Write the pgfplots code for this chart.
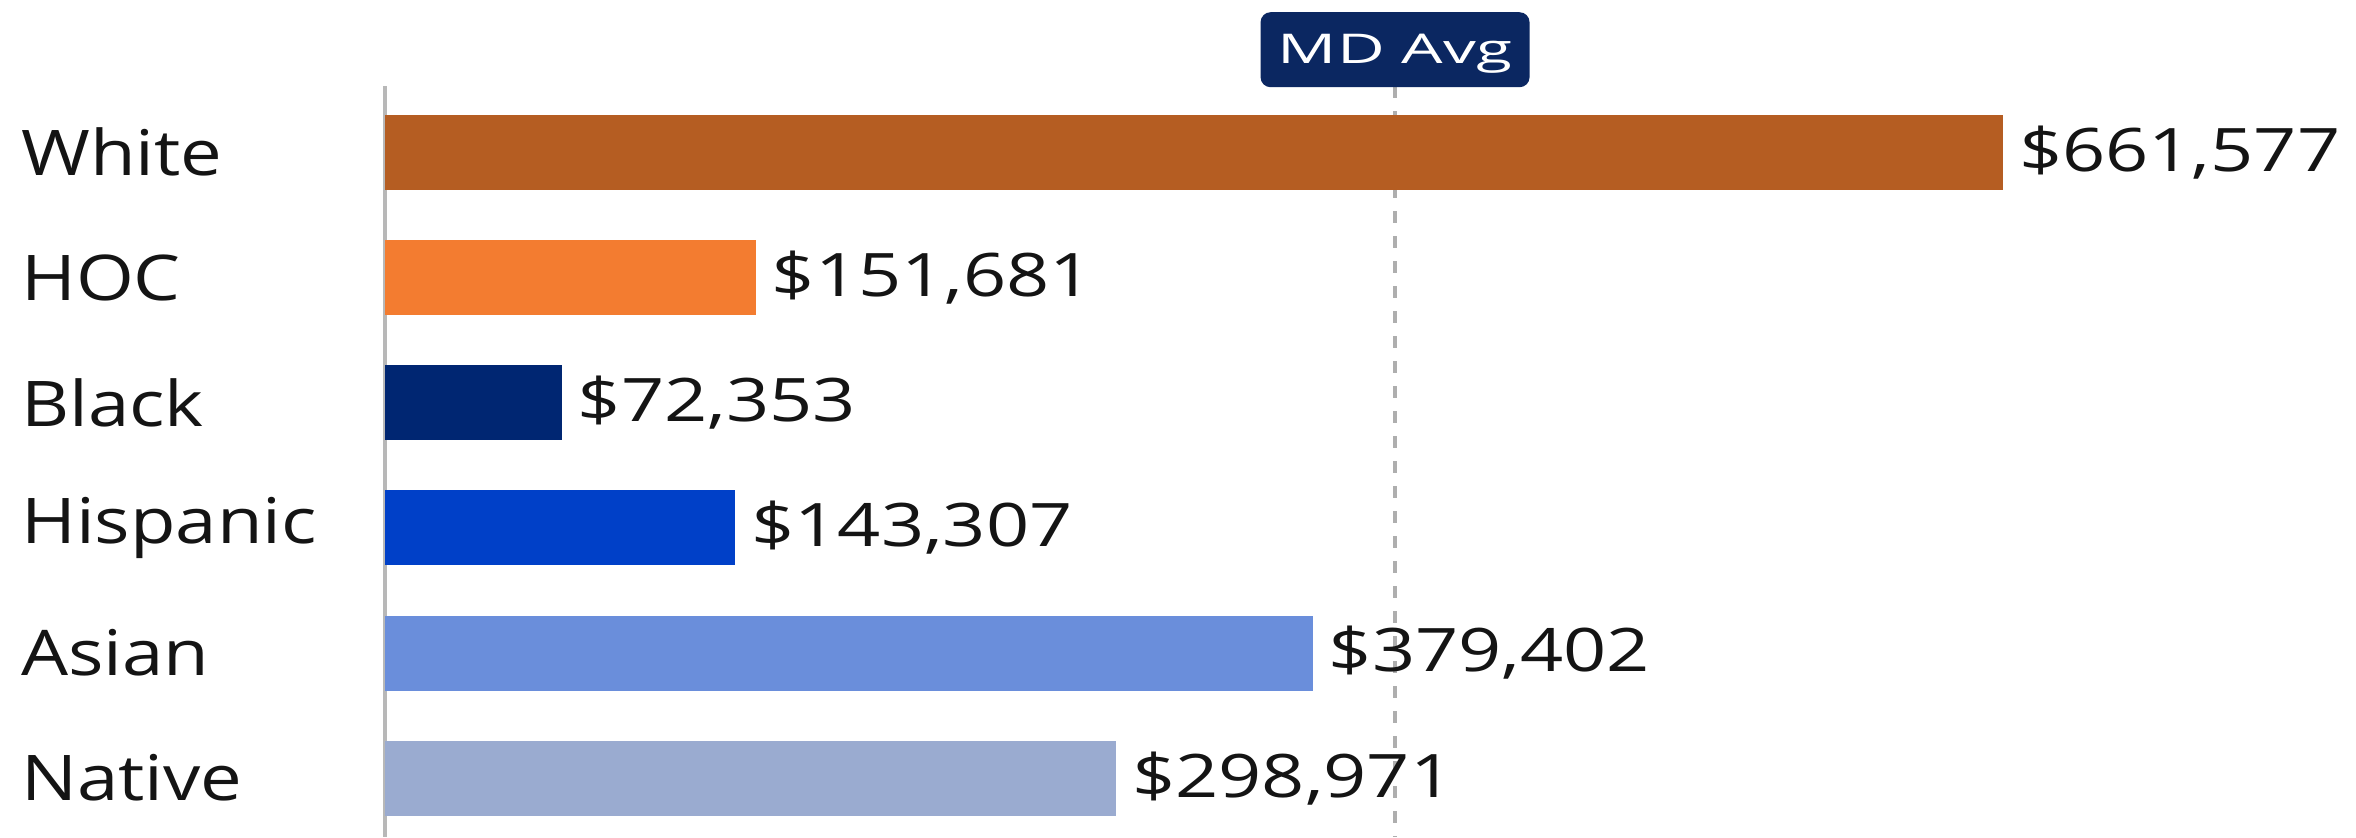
\documentclass[border=0pt]{standalone}
\usepackage{fontspec}
\setmainfont{Open Sans}
\newfontfamily\labfont{Open Sans}[FakeStretch=1.18]
\newfontfamily\valfont{Open Sans}[FakeStretch=1.26]
\newfontfamily\avgfont{Open Sans}[FakeStretch=1.6]
\usepackage{pgfplots}
\pgfplotsset{compat=1.18}
\definecolor{cWhite}{HTML}{B55D22}
\definecolor{cHOC}{HTML}{F37C30}
\definecolor{cBlack}{HTML}{002672}
\definecolor{cHisp}{HTML}{0040C8}
\definecolor{cAsian}{HTML}{6A8EDB}
\definecolor{cNative}{HTML}{9AABD0}
\definecolor{cAvg}{HTML}{0B2761}
\definecolor{axgray}{HTML}{B8B8B8}
\definecolor{dashgray}{HTML}{AEAEAE}
\begin{document}
\begin{tikzpicture}
\useasboundingbox (-96.25pt,0pt) rectangle (492.75pt,209.25pt);
\begin{axis}[
  at={(0pt,0pt)}, anchor=south west,
  scale only axis, width=404.5pt, height=187.75pt,
  xmin=0, xmax=661577,
  ymin=-0.53, ymax=5.47, y dir=reverse,
  ytick={0,1,2,3,4,5},
  yticklabels={White,HOC,Black,Hispanic,Asian,Native},
  axis x line=none,
  axis y line*=left,
  y axis line style={axgray, line width=0.8pt},
  major tick length=0pt,
  yticklabel style={font=\labfont\fontsize{15.75}{18}\selectfont, anchor=east, text width=90.75pt, align=left, inner sep=0pt, text=black!92},
  clip=false,
  mybar/.style={xbar, bar width=18.75pt, bar shift=0pt, draw=none,
    point meta=explicit symbolic,
    nodes near coords={\$\pgfplotspointmeta},
    every node near coord/.append style={font=\valfont\fontsize{15}{18}\selectfont, anchor=west, inner sep=0pt, xshift=3.8pt, text=black!92}},
]
\addplot[dashgray, line width=0.9pt, dash pattern=on 3pt off 3.25pt] coordinates {(413000,-0.53) (413000,5.47)};
\addplot[mybar, fill=cWhite] coordinates {(661577,0) [661,577]};
\addplot[mybar, fill=cHOC] coordinates {(151681,1) [151,681]};
\addplot[mybar, fill=cBlack] coordinates {(72353,2) [72,353]};
\addplot[mybar, fill=cHisp] coordinates {(143307,3) [143,307]};
\addplot[mybar, fill=cAsian] coordinates {(379402,4) [379,402]};
\addplot[mybar, fill=cNative] coordinates {(298971,5) [298,971]};
\node[fill=cAvg, rounded corners=2.5pt, text=white, minimum width=67.25pt, minimum height=18.75pt, inner sep=0pt, text height=7pt, text depth=0pt, anchor=south, yshift=-0.5pt, font=\avgfont\fontsize{10.25}{12}\selectfont] at (axis cs:413000,-0.53) {MD Avg};
\end{axis}
\end{tikzpicture}
\end{document}
